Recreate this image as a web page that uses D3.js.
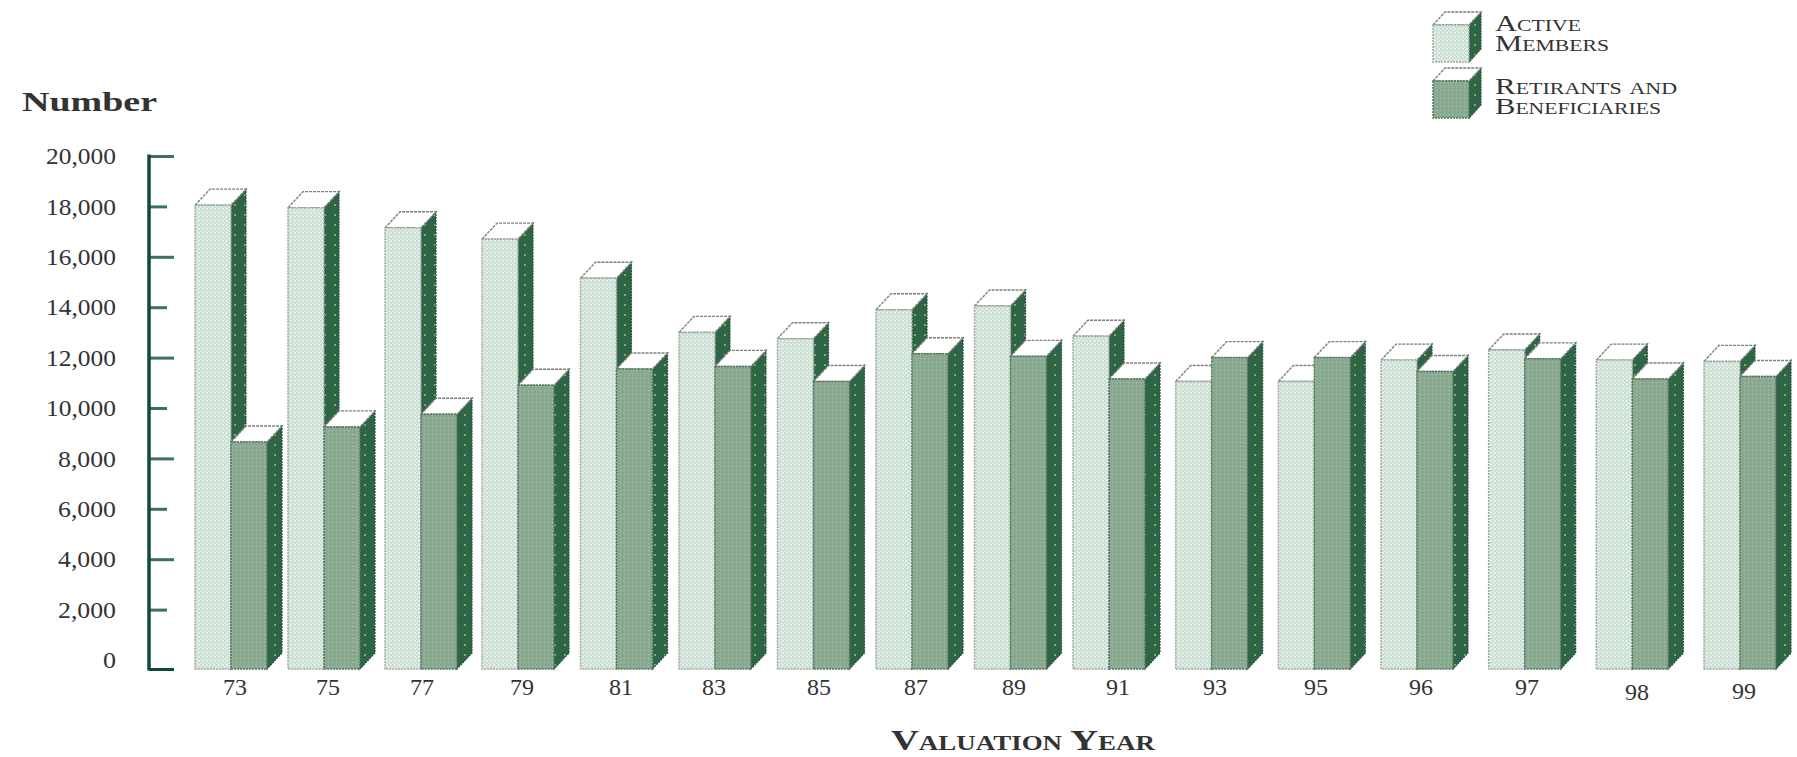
<!DOCTYPE html>
<html>
<head>
<meta charset="utf-8">
<title>Active Members and Retirants by Valuation Year</title>
<script src="https://cdn.jsdelivr.net/npm/d3@7"></script>
<style>
  html, body { margin: 0; padding: 0; background: #fff; }
  svg { display: block; }
  text { font-family: "Liberation Serif", serif; fill: #333; }
</style>
</head>
<body>
<svg id="chart" width="1797" height="757"></svg>
<script>
// Valuation years and head counts
const years = ["73","75","77","79","81","83","85","87","89","91","93","95","96","97","98","99"];
const activeMembers = [18050,17950,17150,16700,15150,13000,12750,13900,14050,12850,11050,11050,11900,12300,11900,11850];
const retirants = [8650,9250,9750,10900,11550,11650,11050,12150,12050,11150,12000,12000,11450,11950,11150,11250];
const yTicks = [0,2000,4000,6000,8000,10000,12000,14000,16000,18000,20000];
const legendNames = [["Active","Members"],["Retirants and","Beneficiaries"]];

const svg = d3.select("#chart");
const defs = svg.append("defs");

// Dithered surface textures
function dither(id, size, base, dots) {
  const p = defs.append("pattern").attr("id", id)
    .attr("width", size).attr("height", size)
    .attr("patternUnits", "userSpaceOnUse");
  p.append("rect").attr("width", size).attr("height", size).attr("fill", base);
  dots.forEach(d => p.append("rect")
    .attr("x", d[0]).attr("y", d[1]).attr("width", d[2]).attr("height", d[2]).attr("fill", d[3]));
}
dither("lightFace", 4, "#dde9df", [
  [0,0,1.5,"#bdd8c4"],[2,2,1.5,"#bdd8c4"],[2,0,1.2,"#f5f9f6"],[0,2,1.2,"#d0ecea"]]);
dither("midFace", 4, "#84b08e", [
  [0,0,1.6,"#989c9a"],[2,2,1.6,"#989c9a"],[2,0,1,"#6fb081"],[0,2,1,"#a3c4ab"]]);
dither("sideFace", 10, "#2f6547", [[4,4,2,"#7fae5c"]]);

const baseY = 669;
const y = d3.scaleLinear().domain([0,20000]).range([660,156]);
const idx = d3.range(years.length);

// Groups drift slightly wider toward the right of the plot
const groupX = d3.scaleLinear()
  .domain([0,1,3,9,12,15])
  .range([195,288,482,1073,1381,1704]);
const labelX = d3.scaleLinear()
  .domain(idx)
  .range([235,328,422,522,621,714,819,916,1014,1118,1215,1316,1421,1527,1637,1744]);
// The last two year labels sit a little lower than the rest
const labelY = d3.scaleLinear().domain([13,14,15]).range([695,700,699]).clamp(true);

// One extruded box: side, top, then front
function box(g, x, w, top, bottom, dx, dy, face, edge) {
  g.append("path")
    .attr("d", `M${x+w},${top}L${x+w+dx},${top-dy}L${x+w+dx},${bottom-dy}L${x+w},${bottom}Z`)
    .attr("fill", "url(#sideFace)")
    .attr("stroke", "#26503f").attr("stroke-width", 1.2).attr("stroke-dasharray", "2 1");
  g.append("path")
    .attr("d", `M${x},${top}L${x+dx},${top-dy}L${x+w+dx},${top-dy}L${x+w},${top}Z`)
    .attr("fill", "#fff")
    .attr("stroke", "#7c817e").attr("stroke-width", 1.4).attr("stroke-dasharray", "3 1");
  g.append("rect")
    .attr("x", x).attr("y", top).attr("width", w).attr("height", bottom - top)
    .attr("fill", face)
    .attr("stroke", edge).attr("stroke-width", 1.5).attr("stroke-dasharray", "2 1");
}

const barW = 36, depthX = 15, depthY = 16;
const groups = svg.append("g").selectAll("g").data(idx).join("g");
groups.each(function(i) {
  const g = d3.select(this), x0 = groupX(i);
  box(g, x0, barW, y(activeMembers[i]), baseY, depthX, depthY, "url(#lightFace)", "#a3a8a5");
  box(g, x0 + barW, barW, y(retirants[i]), baseY, depthX, depthY, "url(#midFace)", "#55755f");
});

// Value axis: labels from d3.axisLeft, alternating long and short ticks
const axisG = svg.append("g").attr("transform", "translate(149,0)")
  .call(d3.axisLeft(y).tickValues(yTicks).tickSize(0).tickPadding(33)
    .tickFormat(d3.format(",")));
axisG.select(".domain").remove();
axisG.selectAll(".tick line")
  .attr("x2", d => (d / 2000) % 2 === 0 ? 25 : 18)
  .attr("y1", d => d === 0 ? baseY - y(0) : 0)
  .attr("y2", d => d === 0 ? baseY - y(0) : 0)
  .attr("stroke", d => d === 0 ? "#0f4a3f" : "#3f6f5e")
  .attr("stroke-width", 3);
axisG.selectAll(".tick text")
  .attr("font-size", 24)
  .attr("font-family", "Liberation Serif")
  .attr("fill", "#444")
  .attr("textLength", d => d === 0 ? 13 : (d < 10000 ? 58 : 70))
  .attr("lengthAdjust", "spacingAndGlyphs");
svg.append("line")
  .attr("x1", 149).attr("x2", 149)
  .attr("y1", y(20000) - 1.5).attr("y2", baseY + 1.5)
  .attr("stroke", "#0f4a3f").attr("stroke-width", 3.5);

// Year labels along the bottom
svg.append("g").selectAll("text").data(idx).join("text")
  .attr("x", i => labelX(i)).attr("y", i => labelY(i))
  .attr("text-anchor", "middle")
  .attr("font-size", 24).attr("fill", "#444")
  .text(i => years[i]);

// Axis titles
svg.append("text")
  .attr("x", 22).attr("y", 111)
  .attr("font-size", 28).attr("font-weight", "bold").attr("fill", "#222")
  .attr("textLength", 135).attr("lengthAdjust", "spacingAndGlyphs")
  .text("Number");
svg.append("text")
  .attr("x", 891).attr("y", 750)
  .attr("font-size", 30).attr("font-weight", "bold").attr("fill", "#222")
  .style("font-variant", "small-caps")
  .attr("textLength", 264).attr("lengthAdjust", "spacingAndGlyphs")
  .text("Valuation Year");

// Legend cubes and their two-line labels
const legendFaces = ["url(#lightFace)", "url(#midFace)"];
const legendEdges = ["#a3a8a5", "#55755f"];
const legendTop = d3.scaleLinear().domain([0,1]).range([25,81]);
const legendLine = d3.scaleLinear().domain([0,1,2,3]).range([31,51,94,114]);
const legendWidths = [[86,114],[182,166]];
legendNames.forEach((lines, k) => {
  const g = svg.append("g");
  box(g, 1433, 36, legendTop(k), legendTop(k) + 37, 12, 13, legendFaces[k], legendEdges[k]);
  lines.forEach((t, j) => {
    svg.append("text")
      .attr("x", 1495).attr("y", legendLine(k * 2 + j))
      .attr("font-size", 24).attr("fill", "#333")
      .style("font-variant", "small-caps")
      .attr("textLength", legendWidths[k][j]).attr("lengthAdjust", "spacingAndGlyphs")
      .text(t);
  });
});
</script>
</body>
</html>
